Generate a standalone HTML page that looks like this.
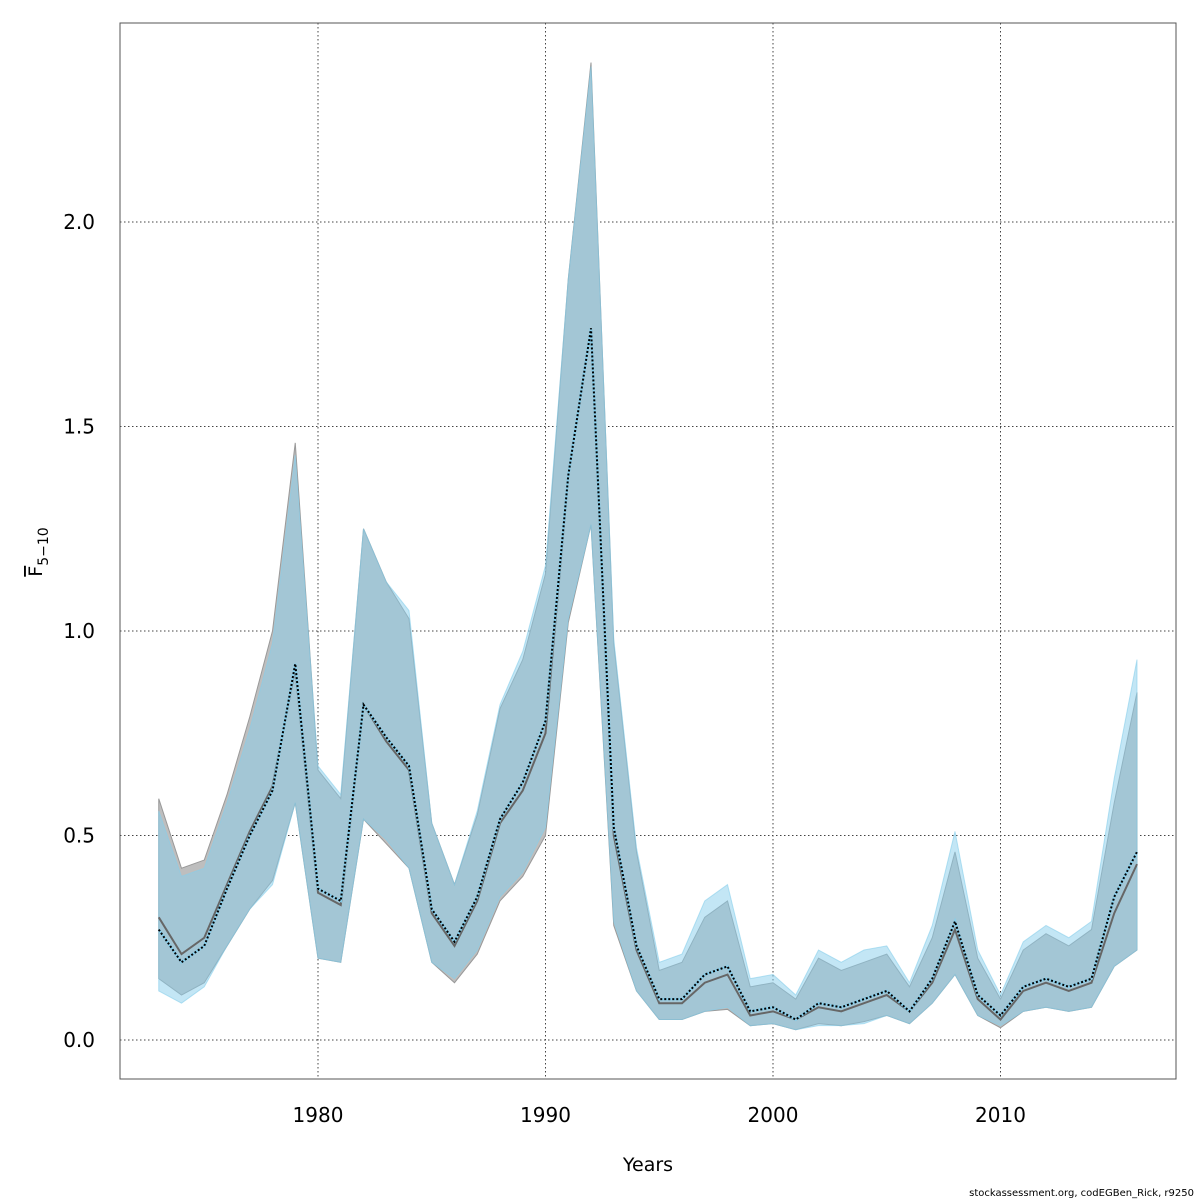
<!DOCTYPE html>
<html><head><meta charset="utf-8"><style>body{margin:0;background:#fff}svg{display:block;font-family:"DejaVu Sans","Liberation Sans",sans-serif}</style></head>
<body>
<svg id="c" width="1200" height="1200">
<text x="648" y="1171" font-size="19" text-anchor="middle">Years</text>
<g transform="translate(42,552) rotate(-90)"><text font-size="19" text-anchor="middle"><tspan text-decoration="overline">F</tspan><tspan font-size="14" dy="6">5−10</tspan></text></g>
<text x="1194" y="1196" font-size="10" text-anchor="end">stockassessment.org, codEGBen_Rick, r9250</text>
</svg>
<script>
const years=[];for(let y=1973;y<=2016;y++)years.push(y);
const xTicks=[1980,1990,2000,2010];
const yTicks=[0,0.5,1.0,1.5,2.0];
const yTickLabels=["0.0","0.5","1.0","1.5","2.0"];
const blueMid=[0.27,0.19,0.23,0.37,0.50,0.61,0.92,0.37,0.34,0.82,0.74,0.67,0.32,0.24,0.35,0.54,0.63,0.78,1.38,1.74,0.52,0.23,0.10,0.10,0.16,0.18,0.07,0.08,0.05,0.09,0.08,0.10,0.12,0.07,0.15,0.29,0.11,0.06,0.13,0.15,0.13,0.15,0.35,0.46];
const blueHi=[0.56,0.40,0.42,0.58,0.76,0.97,1.43,0.67,0.60,1.25,1.12,1.05,0.53,0.38,0.56,0.82,0.95,1.16,1.86,2.38,0.98,0.47,0.19,0.21,0.34,0.38,0.15,0.16,0.11,0.22,0.19,0.22,0.23,0.14,0.28,0.51,0.22,0.11,0.24,0.28,0.25,0.29,0.64,0.93];
const blueLo=[0.12,0.09,0.13,0.23,0.32,0.38,0.58,0.20,0.19,0.54,0.49,0.42,0.19,0.15,0.22,0.35,0.41,0.52,1.03,1.26,0.29,0.12,0.05,0.05,0.07,0.08,0.035,0.04,0.025,0.035,0.035,0.04,0.06,0.04,0.09,0.16,0.06,0.035,0.07,0.08,0.07,0.08,0.18,0.22];
const grayMid=[0.30,0.21,0.25,0.38,0.51,0.62,0.91,0.36,0.33,0.82,0.73,0.66,0.31,0.23,0.34,0.53,0.61,0.75,1.38,1.74,0.50,0.22,0.09,0.09,0.14,0.16,0.06,0.07,0.05,0.08,0.07,0.09,0.11,0.07,0.14,0.27,0.10,0.05,0.12,0.14,0.12,0.14,0.31,0.43];
const grayHi=[0.59,0.42,0.44,0.60,0.79,1.00,1.46,0.66,0.59,1.25,1.12,1.03,0.53,0.38,0.55,0.81,0.93,1.14,1.86,2.39,0.97,0.46,0.17,0.19,0.30,0.34,0.13,0.14,0.10,0.20,0.17,0.19,0.21,0.13,0.25,0.46,0.20,0.10,0.22,0.26,0.23,0.27,0.58,0.85];
const grayLo=[0.15,0.11,0.14,0.23,0.32,0.39,0.58,0.20,0.19,0.54,0.48,0.42,0.19,0.14,0.21,0.34,0.40,0.50,1.02,1.26,0.28,0.12,0.05,0.05,0.07,0.075,0.035,0.04,0.025,0.04,0.035,0.045,0.06,0.04,0.09,0.16,0.06,0.03,0.07,0.08,0.07,0.08,0.18,0.22];
const X=y=>318+(y-1980)*22.75, Y=v=>1040-v*409;
const NS="http://www.w3.org/2000/svg", svg=document.getElementById('c');
function mk(t,a){const e=document.createElementNS(NS,t);for(const k in a)e.setAttribute(k,a[k]);svg.appendChild(e);return e;}
xTicks.forEach(t=>{const l=mk('line',{x1:X(t),x2:X(t),y1:23,y2:1079,stroke:'#444','stroke-dasharray':'1.5,2.5','stroke-width':1});


const tx=mk('text',{x:X(t),y:1122,'font-size':20,'text-anchor':'middle'});tx.textContent=t;

});
yTicks.forEach((t,i)=>{const l=mk('line',{x1:120,x2:1176,y1:Y(t),y2:Y(t),stroke:'#444','stroke-dasharray':'1.5,2.5','stroke-width':1});


const tx=mk('text',{x:95,y:Y(t)+7,'font-size':20,'text-anchor':'end'});tx.textContent=yTickLabels[i];

});
function band(hi,lo){let d='M'+years.map((y,i)=>X(y)+','+Y(hi[i])).join('L');for(let i=years.length-1;i>=0;i--)d+='L'+X(years[i])+','+Y(lo[i]);return d+'Z';}
function line(v){return 'M'+years.map((y,i)=>X(y)+','+Y(v[i])).join('L');}
const gb=mk('path',{d:band(grayHi,grayLo),fill:'#bebebe',stroke:'#999','stroke-width':1});


const bb=mk('path',{d:band(blueHi,blueLo),fill:'rgba(135,206,235,0.5)',stroke:'rgba(135,206,235,0.6)','stroke-width':1});


const gl=mk('path',{d:line(grayMid),fill:'none',stroke:'#666','stroke-width':2});


const bl0=mk('path',{d:line(blueMid),fill:'none',stroke:'#87ceeb','stroke-width':2.5});


const bl=mk('path',{d:line(blueMid),fill:'none',stroke:'#000','stroke-width':2,'stroke-dasharray':'2,2'});


const fr=mk('rect',{x:120,y:23,width:1056,height:1056,fill:'none',stroke:'#555','stroke-width':1});


</script>
</body></html>
